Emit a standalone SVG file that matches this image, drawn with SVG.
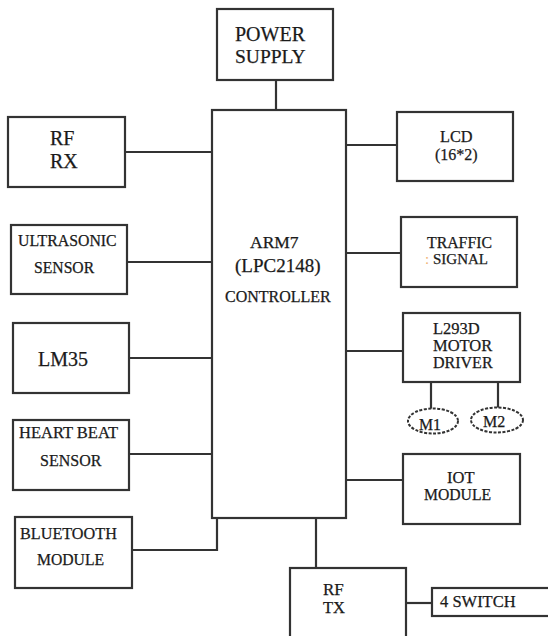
<svg xmlns="http://www.w3.org/2000/svg" width="548" height="636" viewBox="0 0 548 636">
<style>
.box{fill:#fff;stroke:#333;stroke-width:2.2}
.ell{fill:#fff;stroke:#333;stroke-width:2;stroke-dasharray:3 1.5}
.ln{fill:none;stroke:#333;stroke-width:2.2}
text{fill:#1a1a1a;stroke:#1a1a1a;stroke-width:0.25;font-size:16px}
.xl{font-size:20px}
</style>
<rect width="548" height="636" fill="#fff"/>
<g id="connectors">
<path class="ln" d="M276,80 V110"/>
<path class="ln" d="M125,152 H212"/>
<path class="ln" d="M127,262 H212"/>
<path class="ln" d="M129,358 H212"/>
<path class="ln" d="M129,454 H212"/>
<path class="ln" d="M132,550 H217 V518"/>
<path class="ln" d="M346,145 H397"/>
<path class="ln" d="M346,253 H401"/>
<path class="ln" d="M346,351 H403"/>
<path class="ln" d="M431,382 V409"/>
<path class="ln" d="M498,382 V409"/>
<path class="ln" d="M346,480 H403"/>
<path class="ln" d="M316,518 V568"/>
<path class="ln" d="M406,603 H432"/>
</g>
<g font-family="'Liberation Serif', 'Times New Roman', 'DejaVu Serif', serif">
<g id="power">
<rect class="box" x="217" y="9" width="116" height="71"/>
<text class="xl" x="235" y="41">POWER</text>
<text x="235" y="63" style="font-size:19.5px">SUPPLY</text>
</g>
<g id="controller">
<rect class="box" x="212" y="110" width="134" height="408"/>
<text x="250" y="248" style="font-size:17.5px">ARM7</text>
<text x="235" y="272" style="font-size:19px">(LPC2148)</text>
<text x="225" y="302">CONTROLLER</text>
</g>
<g id="rfrx">
<rect class="box" x="8" y="117" width="117" height="70"/>
<text class="xl" x="50" y="145">RF</text>
<text class="xl" x="50" y="168">RX</text>
</g>
<g id="ultrasonic">
<rect class="box" x="11" y="225" width="116" height="69"/>
<text x="18" y="245.5" style="font-size:15.8px">ULTRASONIC</text>
<text x="34" y="273" style="font-size:15.7px">SENSOR</text>
</g>
<g id="lm35">
<rect class="box" x="13" y="323" width="116" height="70"/>
<text class="xl" x="38" y="366">LM35</text>
</g>
<g id="heartbeat">
<rect class="box" x="13" y="420" width="116" height="70"/>
<text x="19" y="437.5" style="font-size:16.5px">HEART BEAT</text>
<text x="40" y="465.5">SENSOR</text>
</g>
<g id="bluetooth">
<rect class="box" x="15" y="517" width="117" height="71"/>
<text x="20" y="539" style="font-size:16.2px">BLUETOOTH</text>
<text x="37" y="565" style="font-size:15.7px">MODULE</text>
</g>
<g id="lcd">
<rect class="box" x="397" y="112" width="116" height="69"/>
<text x="440" y="142" style="font-size:16.3px">LCD</text>
<text x="435" y="160">(16*2)</text>
</g>
<g id="traffic">
<rect class="box" x="401" y="217" width="116" height="70"/>
<text x="427" y="248" style="font-size:15.8px">TRAFFIC</text>
<text x="425" y="263.5" style="fill:#f0b070;stroke:none;font-size:15px">:</text>
<text x="433" y="263.5" style="font-size:15px">SIGNAL</text>
</g>
<g id="l293d">
<rect class="box" x="403" y="313" width="117" height="69"/>
<text x="433" y="333.5" style="font-size:16.5px">L293D</text>
<text x="433" y="351" style="font-size:16.5px">MOTOR</text>
<text x="433" y="368">DRIVER</text>
</g>
<g id="m1">
<ellipse class="ell" cx="433" cy="421" rx="25" ry="12.5"/>
<text x="419" y="430" style="font-size:15.8px">M1</text>
</g>
<g id="m2">
<ellipse class="ell" cx="497" cy="420" rx="26" ry="12.5"/>
<text x="483" y="427">M2</text>
</g>
<g id="iot">
<rect class="box" x="403" y="454" width="117" height="70"/>
<text x="447" y="483" style="font-size:16.5px">IOT</text>
<text x="424" y="500" style="font-size:15.7px">MODULE</text>
</g>
<g id="rftx">
<rect class="box" x="290" y="568" width="116" height="80"/>
<text x="323" y="595" style="font-size:17px">RF</text>
<text x="323" y="613" style="font-size:16.5px">TX</text>
</g>
<g id="switch">
<rect class="box" x="432" y="588" width="130" height="28"/>
<text x="440" y="607" style="font-size:16.5px">4 SWITCH</text>
</g>
</g>
</svg>
